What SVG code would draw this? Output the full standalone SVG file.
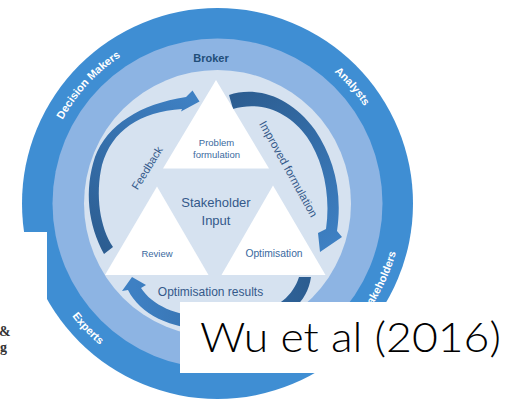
<svg xmlns="http://www.w3.org/2000/svg" width="512" height="400" viewBox="0 0 512 400">
  <style>
    .sans { font-family: "Liberation Sans", Arial, sans-serif; }
    .ring-label { font-family: "Liberation Sans", Arial, sans-serif; font-weight: bold; font-size: 11px; fill: #ffffff; }
    .node { fill: #ffffff; }
    .node-label { font-family: "Liberation Sans", Arial, sans-serif; fill: #3b6aa0; text-anchor: middle; }
    .flow-label { font-family: "Liberation Sans", Arial, sans-serif; fill: #34598a; text-anchor: middle; }
    .margin-text { font-family: "Liberation Serif", "Times New Roman", serif; font-size: 14px; font-weight: bold; fill: #333333; }
  </style>
  <defs>
    <linearGradient id="gradFeedback" gradientUnits="userSpaceOnUse" x1="105" y1="250" x2="195" y2="100">
      <stop offset="0" stop-color="#2c5d91"/>
      <stop offset="1" stop-color="#3e80c3"/>
    </linearGradient>
    <linearGradient id="gradImproved" gradientUnits="userSpaceOnUse" x1="235" y1="95" x2="330" y2="245">
      <stop offset="0" stop-color="#2c5d91"/>
      <stop offset="1" stop-color="#3e80c3"/>
    </linearGradient>
    <linearGradient id="gradResults" gradientUnits="userSpaceOnUse" x1="305" y1="280" x2="135" y2="290">
      <stop offset="0" stop-color="#2c5d91"/>
      <stop offset="1" stop-color="#3e80c3"/>
    </linearGradient>
    <!-- baselines for the curved ring labels (centre 217.5,203.5) -->
    <path id="arcDecision" d="M42.2,188.2 A176,176 0 0 1 186.9,30.2"/>
    <path id="arcAnalysts" d="M274.8,37.1 A176,176 0 0 1 390.3,169.9"/>
    <path id="arcStakeholders" d="M321.0,356.9 A185,185 0 0 0 402.1,190.6"/>
    <path id="arcExperts" d="M39.0,248.0 A184,184 0 0 0 166.8,380.4"/>
  </defs>

  <rect width="512" height="400" fill="#ffffff"/>

  <!-- concentric rings -->
  <g id="rings">
    <circle cx="217.5" cy="203.5" r="195.5" fill="#3f8ed3"/>
    <circle cx="217.5" cy="203.5" r="165" fill="#8db4e3"/>
    <circle cx="217.5" cy="203.5" r="133.5" fill="#d6e2f0"/>
  </g>

  <!-- ring labels -->
  <g id="ring-labels">
    <text class="ring-label"><textPath href="#arcDecision" startOffset="50%" text-anchor="middle">Decision Makers</textPath></text>
    <text class="ring-label"><textPath href="#arcAnalysts" startOffset="50%" text-anchor="middle">Analysts</textPath></text>
    <text class="ring-label"><textPath href="#arcStakeholders" startOffset="50%" text-anchor="middle">Stakeholders</textPath></text>
    <text class="ring-label"><textPath href="#arcExperts" startOffset="50%" text-anchor="middle">Experts</textPath></text>
    <text class="sans" x="211" y="61.5" font-size="11" font-weight="bold" fill="#1f4e79" text-anchor="middle">Broker</text>
  </g>

  <!-- curved flow arrows -->
  <g id="connectors">
    <path id="arrow-feedback" fill="url(#gradFeedback)"
          d="M104,254 C88,225 84,190 95,157 C107,125 140,104 186,97 L192.5,90.5 L199.5,101.5 L181,111.5 L182,109 C140,112 112,130 102,165 C95,195 100,228 113,247 Z"/>
    <path id="arrow-improved" fill="url(#gradImproved)"
          d="M229,95 C255,86 290,95 315,130 C333,157 343,190 337,231 L342,237 L320,252 L318,233 L326,229 C331,195 323,160 307,137 C290,113 262,100 233,109 Z"/>
    <path id="arrow-results" fill="url(#gradResults)"
          d="M132,277 L146,285 L141,288 C152,305 175,316 210,318 C260,320 290,305 299,277 L311,277 C306,312 270,332 210,330 C170,329 140,314 128,290 L122,291 Z"/>
  </g>

  <!-- process stages -->
  <g id="node-problem">
    <polygon class="node" points="216,80 163,168.5 269,168.5"/>
    <text class="node-label" x="216.5" y="146" font-size="9.5">Problem</text>
    <text class="node-label" x="216.5" y="158" font-size="9.5">formulation</text>
  </g>
  <g id="node-review">
    <polygon class="node" points="157,186.5 105,275 208.5,275"/>
    <text class="node-label" x="157" y="257" font-size="9.5">Review</text>
  </g>
  <g id="node-optimisation">
    <polygon class="node" points="273,185.5 221.5,275 325.5,275"/>
    <text class="node-label" x="274" y="257" font-size="10.3">Optimisation</text>
  </g>

  <!-- centre and flow labels -->
  <g id="flow-labels">
    <text class="flow-label" x="216" y="207" font-size="13">Stakeholder</text>
    <text class="flow-label" x="216" y="225" font-size="13">Input</text>
    <text class="flow-label" x="147" y="168" font-size="11" transform="rotate(-58 147 168)" dy="4">Feedback</text>
    <text class="flow-label" x="288.5" y="169" font-size="11.5" transform="rotate(61 288.5 169)" dy="4">Improved formulation</text>
    <text class="flow-label" x="210.5" y="296" font-size="12">Optimisation results</text>
  </g>

  <!-- page margin overlapping the figure, with fragments of body text -->
  <rect x="0" y="232" width="47" height="168" fill="#ffffff"/>
  <text class="margin-text" x="-1" y="336">&amp;</text>
  <text class="margin-text" x="0" y="352">g</text>

  <!-- citation box -->
  <g id="citation">
    <rect x="180" y="302" width="332" height="71" fill="#ffffff"/>
    <text x="200" y="352" font-family="Lato, 'Liberation Sans', Arial, sans-serif" font-weight="300" font-size="42" fill="#000000" textLength="301" lengthAdjust="spacingAndGlyphs">Wu et al (2016)</text>
  </g>
</svg>
